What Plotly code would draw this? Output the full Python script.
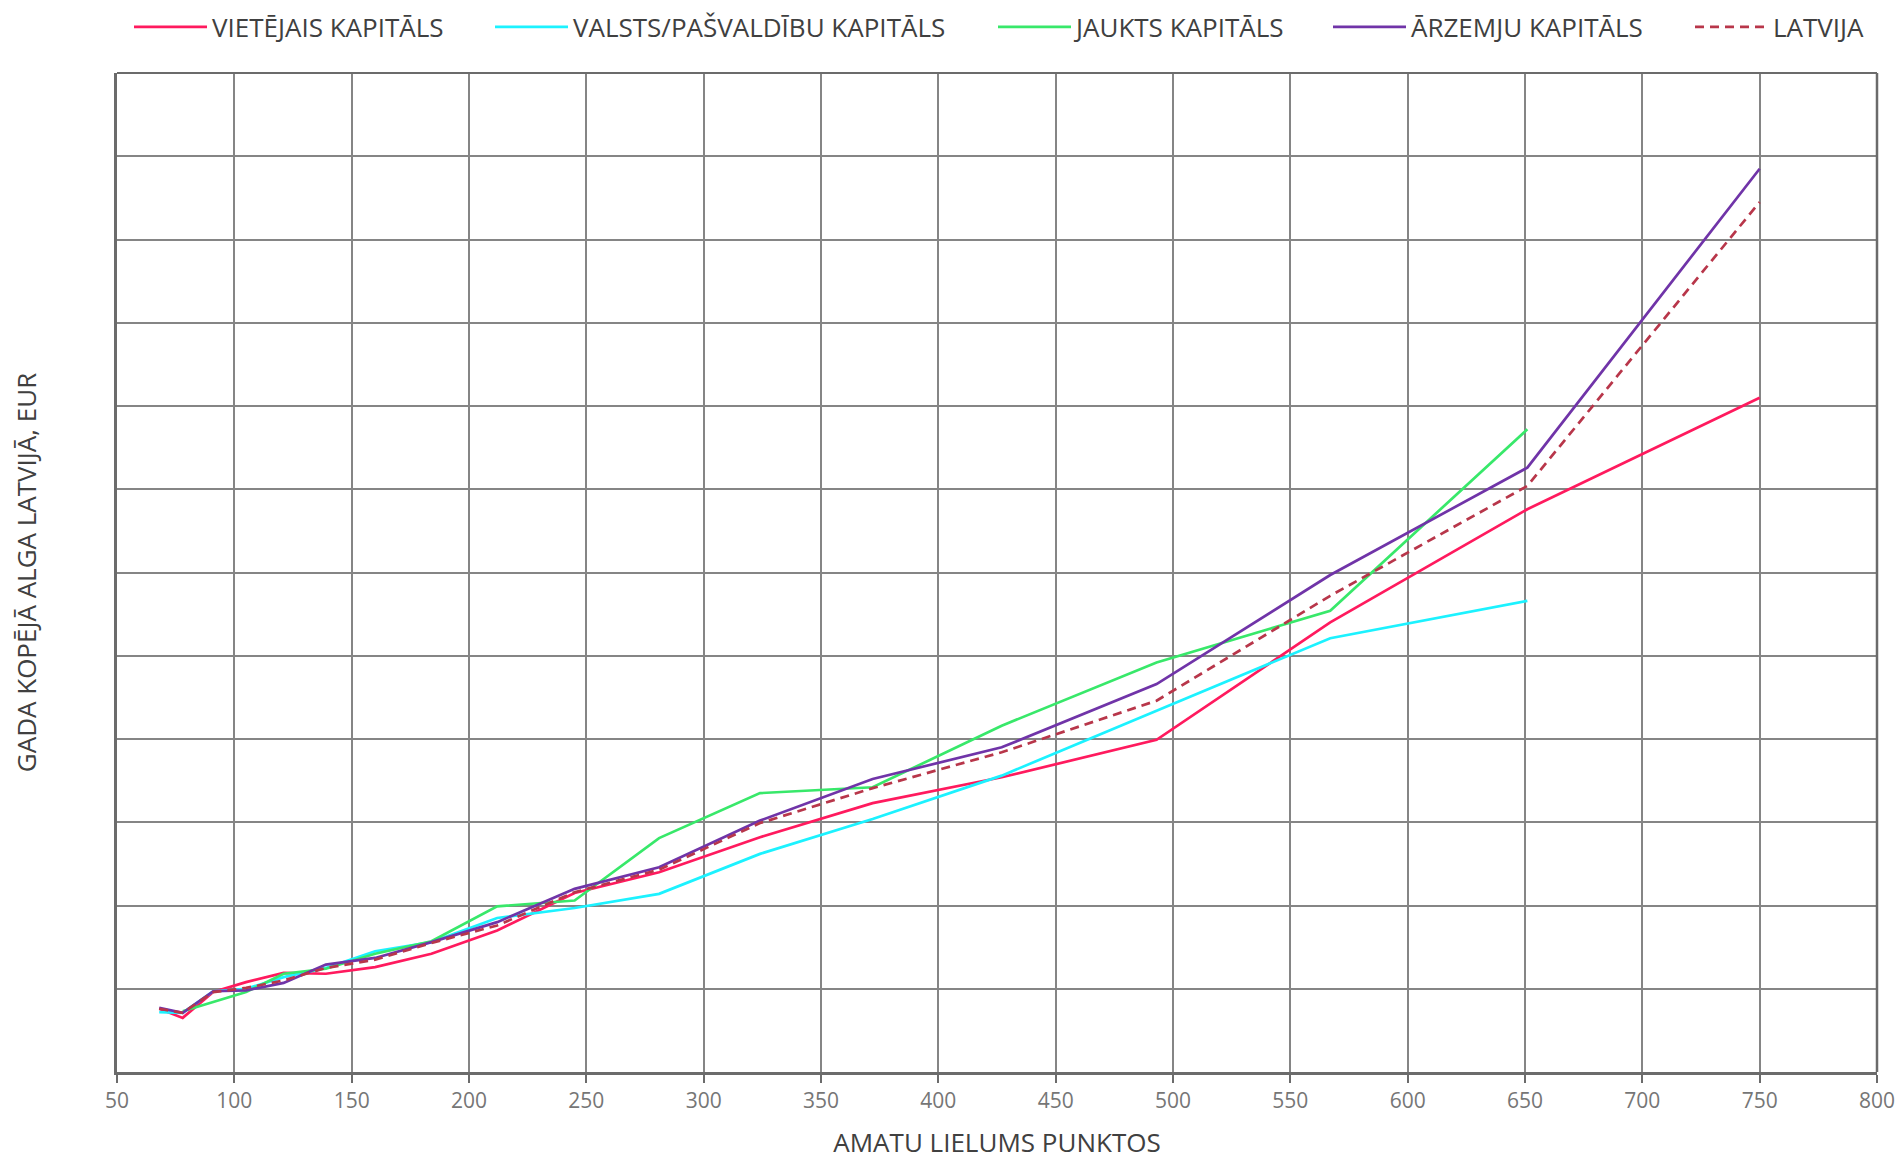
import plotly.graph_objects as go

# Job size points (x) and annual total pay (in grid units) per series
x_viet = [68, 78, 91, 105, 121, 139, 160, 184, 212, 245, 281, 324, 372, 427, 493, 567, 651, 750]
y_viet = [0.76, 0.65, 0.96, 1.08, 1.19, 1.18, 1.26, 1.42, 1.70, 2.15, 2.40, 2.82, 3.23, 3.54, 3.99, 5.40, 6.76, 8.10]

x_vals = [68, 78, 91, 105, 121, 139, 160, 184, 212, 245, 281, 324, 372, 427, 493, 567, 651]
y_vals = [0.72, 0.71, 0.97, 1.00, 1.14, 1.25, 1.45, 1.56, 1.85, 1.97, 2.14, 2.62, 3.04, 3.56, 4.34, 5.21, 5.66]

x_jauk = [78, 91, 105, 121, 139, 160, 184, 212, 245, 281, 324, 372, 427, 493, 567, 651]
y_jauk = [0.73, 0.84, 0.96, 1.18, 1.24, 1.42, 1.57, 1.99, 2.06, 2.81, 3.35, 3.42, 4.16, 4.92, 5.54, 7.72]

x_arz = [68, 78, 91, 105, 121, 139, 160, 184, 212, 245, 281, 324, 372, 427, 493, 567, 651, 750]
y_arz = [0.77, 0.71, 0.97, 0.98, 1.07, 1.29, 1.37, 1.56, 1.80, 2.20, 2.46, 3.02, 3.52, 3.90, 4.66, 5.97, 7.26, 10.85]

x_lv = [68, 78, 91, 105, 121, 139, 160, 184, 212, 245, 281, 324, 372, 427, 493, 567, 651, 750]
y_lv = [0.76, 0.71, 0.96, 1.01, 1.10, 1.25, 1.35, 1.55, 1.76, 2.16, 2.43, 2.99, 3.41, 3.84, 4.46, 5.72, 7.04, 10.45]

names = ["VIETĒJAIS KAPITĀLS", "VALSTS/PAŠVALDĪBU KAPITĀLS", "JAUKTS KAPITĀLS", "ĀRZEMJU KAPITĀLS", "LATVIJA"]
x_ticks = list(range(50, 801, 50))

FONT = "Open Sans, sans-serif"
TXT = "#404040"
W, H = 1895, 1152  # page body adds an 8px offset

fig = go.Figure()
series = [
    (x_viet, y_viet, "#FF1A5E", "solid"),
    (x_vals, y_vals, "#1CF2FF", "solid"),
    (x_jauk, y_jauk, "#38E86A", "solid"),
    (x_arz, y_arz, "#7034A8", "solid"),
    (x_lv, y_lv, "#B8364A", "9px,6px"),
]
legend_ids = ["legend", "legend2", "legend3", "legend4", "legend5"]
for (xs, ys, col, dash), nm, lg in zip(series, names, legend_ids):
    fig.add_trace(go.Scatter(x=xs, y=ys, mode="lines", name=nm, legend=lg, showlegend=True,
                             line=dict(color=col, width=2.7, dash=dash)))

# legend item left positions (figure px)
leg_x = [121, 482, 985, 1320, 1682]
leg_cfg = {}
for lg, lx in zip(legend_ids, leg_x):
    leg_cfg[lg] = dict(xref="container", yref="container", x=lx / W, xanchor="left",
                       y=1 - 19 / H, yanchor="middle", orientation="h",
                       font=dict(size=26, color=TXT, family=FONT), itemwidth=73,
                       bgcolor="rgba(0,0,0,0)", borderwidth=0)

fig.update_layout(
    width=W, height=H, showlegend=True,
    margin=dict(l=109, r=26, t=65, b=88, autoexpand=False),
    paper_bgcolor="white", plot_bgcolor="white",
    font=dict(family=FONT, color=TXT),
    xaxis=dict(range=[50, 800], tickvals=x_ticks, showgrid=True, gridcolor="#858585", gridwidth=1.5,
               showline=True, linecolor="#6b6b6b", linewidth=3, mirror=False,
               ticks="outside", ticklen=8, tickcolor="#6b6b6b", tickwidth=2,
               tickfont=dict(size=21, color="#767676", family=FONT),
               title=dict(text="AMATU LIELUMS PUNKTOS", font=dict(size=26, color=TXT, family=FONT), standoff=23),
               zeroline=False, automargin=False),
    yaxis=dict(range=[0, 12], dtick=1, showticklabels=False, showgrid=True, gridcolor="#858585", gridwidth=1.5,
               showline=True, linecolor="#6b6b6b", linewidth=3, ticks="",
               title=dict(text="GADA KOPĒJĀ ALGA LATVIJĀ, EUR", font=dict(size=26, color=TXT, family=FONT), standoff=78),
               zeroline=False, automargin=False),
    **leg_cfg,
)
# top and right frame lines
fig.add_shape(type="line", xref="paper", yref="paper", x0=0, x1=1, y0=1, y1=1, line=dict(color="#6b6b6b", width=2))
fig.add_shape(type="line", xref="paper", yref="paper", x0=1, x1=1, y0=0, y1=1, line=dict(color="#6b6b6b", width=2.5))

fig.write_html("out.html")
